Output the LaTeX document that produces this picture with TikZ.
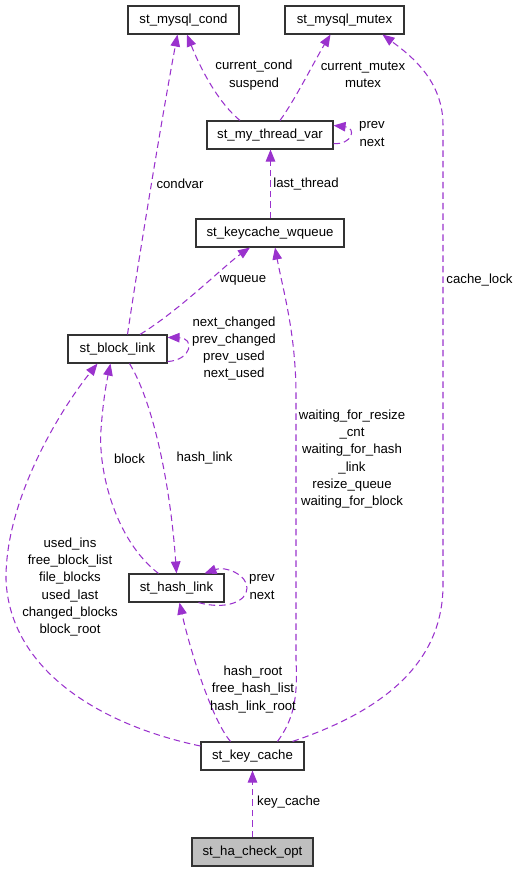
\documentclass[tikz,border=0pt]{standalone}
\usepackage{fontspec}
\setmainfont{Liberation Sans}
\usetikzlibrary{arrows.meta}
\definecolor{edgec}{HTML}{9A32CD}
\definecolor{fillg}{HTML}{BFBFBF}
\tikzset{
  box/.style={draw=black!80, line width=1.1pt, inner sep=0pt, minimum height=28pt, fill=white},
  lbl/.style={align=center, inner sep=0pt},
  edge/.style={draw=edgec, line width=1.05pt, dash pattern=on 6.5pt off 4pt, -{Triangle[length=12pt,width=9.5pt]}},
}
\begin{document}
\begin{tikzpicture}[x=1pt,y=-1pt,font=\fontsize{13.2}{17.2}\selectfont]
\useasboundingbox (0,0) rectangle (519,872);
% nodes
\node[box, minimum width=111pt] (cond) at (183.5,20) {st\_mysql\_cond};
\node[box, minimum width=119pt] (mutex) at (344.5,20) {st\_mysql\_mutex};
\node[box, minimum width=126pt] (thr) at (270,135) {st\_my\_thread\_var};
\node[box, minimum width=148pt] (wq) at (270,233) {st\_keycache\_wqueue};
\node[box, minimum width=99pt] (blk) at (117.5,349) {st\_block\_link};
\node[box, minimum width=95pt] (hash) at (176.5,588) {st\_hash\_link};
\node[box, minimum width=103pt] (kc) at (252.5,756) {st\_key\_cache};
\node[box, minimum width=121pt, fill=fillg] (ha) at (252.5,852) {st\_ha\_check\_opt};
% edges
\draw[edge] ([xshift=-30pt]thr.north) .. controls (215,100) and (197,60) .. ([xshift=3.5pt]cond.south);
\draw[edge] ([xshift=10pt]thr.north) .. controls (295,100) and (315,60) .. ([xshift=-14pt]mutex.south);
\draw[edge] ([xshift=10pt]blk.north) .. controls (140,250) and (165,100) .. ([xshift=-6pt]cond.south);
\draw[edge] ([yshift=6pt]thr.south east) .. controls (352,145) and (357,128) .. ([yshift=-5pt]thr.north east);
\draw[edge] ([xshift=0.5pt]wq.north) -- ([xshift=0.5pt]thr.south);
\draw[edge] ([xshift=22.5pt]blk.north) .. controls (180,310) and (225,265) .. ([xshift=-20pt]wq.south);
\draw[edge] ([xshift=40pt]kc.north) .. controls (380,712) and (443,665) .. (443,585) -- (443,125) .. controls (443,80) and (410,55) .. ([xshift=38pt]mutex.south);
\draw[edge] ([xshift=25pt]kc.north) .. controls (293,720) and (298,700) .. (296,660) -- (296,390) .. controls (295,330) and (283,290) .. ([xshift=5pt]wq.south);
\draw[edge] ([yshift=2pt]blk.south east) .. controls (192,360) and (195,338) .. ([yshift=-3pt]blk.north east);
\draw[edge] ([xshift=-18pt]hash.north) .. controls (115,540) and (98,470) .. (101,430) .. controls (103,400) and (107,380) .. ([xshift=-7pt]blk.south);
\draw[edge] ([xshift=12pt]blk.south) .. controls (152,400) and (170,480) .. (hash.north);
\draw[edge] ([xshift=22pt]hash.south) .. controls (225,610) and (247,602) .. (247,588) .. controls (247,574) and (225,566) .. ([xshift=28pt]hash.north);
\draw[edge] ([yshift=10pt]kc.west) .. controls (100,725) and (10,670) .. (6,580) .. controls (5,500) and (60,410) .. ([xshift=-20pt]blk.south);
\draw[edge] ([xshift=-22pt]kc.north) .. controls (212,720) and (190,650) .. ([xshift=3pt]hash.south);
\draw[edge] (ha.north) -- (kc.south);
% labels
\node[lbl] (l1) at (254,75) {current\_cond\\suspend};
\node[lbl] (l2) at (363,75) {current\_mutex\\mutex};
\node[lbl] (l3) at (372,134) {prev\\next};
\node[lbl] (l4) at (180,184) {condvar};
\node[lbl] (l5) at (306,184) {last\_thread};
\node[lbl] (l6) at (243,280) {wqueue};
\node[lbl] (l7) at (479.5,280) {cache\_lock};
\node[lbl] (l8) at (234,348.5) {next\_changed\\prev\_changed\\prev\_used\\next\_used};
\node[lbl] (l9) at (352,459) {waiting\_for\_resize\\\_cnt\\waiting\_for\_hash\\\_link\\resize\_queue\\waiting\_for\_block};
\node[lbl] (l10) at (129.5,458.3) {block};
\node[lbl] (l11) at (204.5,458.3) {hash\_link};
\node[lbl] (l12) at (70,587) {used\_ins\\free\_block\_list\\file\_blocks\\used\_last\\changed\_blocks\\block\_root};
\node[lbl] (l13) at (262,587) {prev\\next};
\node[lbl] (l14) at (253,689.5) {hash\_root\\free\_hash\_list\\hash\_link\_root};
\node[lbl] (l15) at (288.7,802.3) {key\_cache};
\end{tikzpicture}
\end{document}
